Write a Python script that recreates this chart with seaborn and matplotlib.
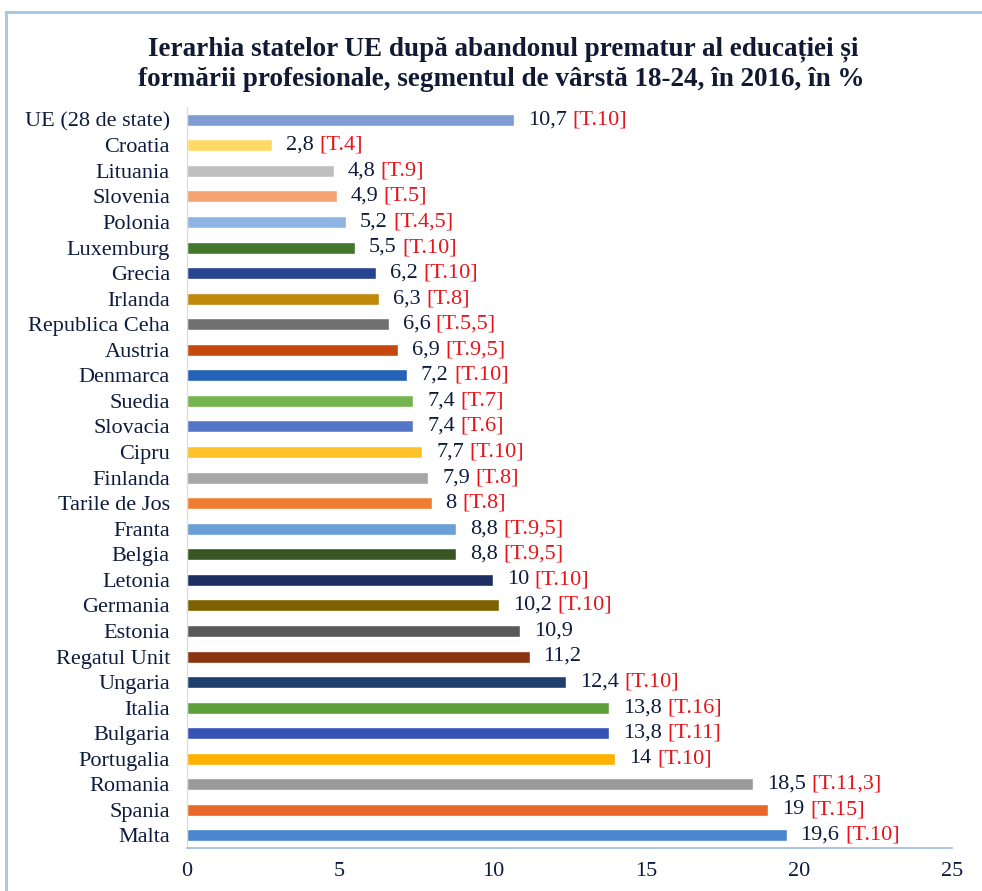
import matplotlib
matplotlib.use("Agg")
import matplotlib.pyplot as plt
import seaborn as sns
from matplotlib.patches import Rectangle

# date
tari = ["UE (28 de state)", "Croatia", "Lituania", "Slovenia", "Polonia", "Luxemburg",
        "Grecia", "Irlanda", "Republica Ceha", "Austria", "Denmarca", "Suedia",
        "Slovacia", "Cipru", "Finlanda", "Tarile de Jos", "Franta", "Belgia",
        "Letonia", "Germania", "Estonia", "Regatul Unit", "Ungaria", "Italia",
        "Bulgaria", "Portugalia", "Romania", "Spania", "Malta"]
valori = [10.7, 2.8, 4.8, 4.9, 5.2, 5.5, 6.2, 6.3, 6.6, 6.9, 7.2, 7.4, 7.4, 7.7,
          7.9, 8.0, 8.8, 8.8, 10.0, 10.2, 10.9, 11.2, 12.4, 13.8, 13.8, 14.0,
          18.5, 19.0, 19.6]
tinte = ["[T.10]", "[T.4]", "[T.9]", "[T.5]", "[T.4,5]", "[T.10]", "[T.10]", "[T.8]",
         "[T.5,5]", "[T.9,5]", "[T.10]", "[T.7]", "[T.6]", "[T.10]", "[T.8]", "[T.8]",
         "[T.9,5]", "[T.9,5]", "[T.10]", "[T.10]", "", "", "[T.10]", "[T.16]",
         "[T.11]", "[T.10]", "[T.11,3]", "[T.15]", "[T.10]"]
culori = ["#7f9bd4", "#ffd966", "#bfbfbf", "#f4a473", "#8db4e2", "#43782c",
          "#264591", "#bf8a0a", "#707070", "#c5490f", "#2563b8", "#74b54f",
          "#5475c8", "#ffc128", "#a6a6a6", "#ed7d31", "#6a9fd8", "#375623",
          "#1c2f60", "#7f6000", "#595959", "#8b3510", "#1f406e", "#5da03a",
          "#3553b5", "#ffb300", "#9a9a9a", "#e8682a", "#4a86cc"]

sns.set_style("white")
plt.rcParams['font.family'] = ['Liberation Serif', 'DejaVu Serif']

text_col = "#0d1b3e"

fig = plt.figure(figsize=(9.82, 8.91), dpi=100)
ax = fig.add_axes([0.19, 0.048, 0.7795, 0.832])

sns.barplot(x=valori, y=tari, hue=tari, palette=culori, orient="h",
            width=0.47, legend=False, ax=ax, saturation=1)

ax.set_xlim(0, 25)
ax.set_ylim(len(tari) - 0.5, -0.5)
ax.set_xticks([0, 5, 10, 15, 20, 25])
ax.tick_params(axis="both", length=0, labelsize=16, colors=text_col)
ax.tick_params(axis="y", pad=12)
ax.tick_params(axis="x", pad=10)
ax.set_xlabel("")
ax.set_ylabel("")

for s in ["top", "right"]:
    ax.spines[s].set_visible(False)
ax.spines["left"].set_color("#d9d9d9")
ax.spines["bottom"].set_color("#9dbbe0")
ax.spines["bottom"].set_linewidth(1.2)

# etichete valori + tinte
for i, (v, t) in enumerate(zip(valori, tinte)):
    lab = f"{v:g}".replace(".", ",")
    txt = ax.annotate(lab, xy=(v, i), xytext=(10, 0), textcoords="offset points",
                      ha="left", va="center", fontsize=16, color=text_col)
    if t:
        ax.annotate(t, xy=(1, 0), xycoords=txt, xytext=(4, 0),
                    textcoords="offset points", ha="left", va="bottom",
                    fontsize=16, color="#e8141a")

fig.text(0.512, 0.945, "Ierarhia statelor UE după abandonul prematur al educației și",
         ha="center", va="center", fontsize=19.5, fontweight="bold", color="#121a33")
fig.text(0.510, 0.911, "formării profesionale, segmentul de vârstă 18-24, în 2016, în %",
         ha="center", va="center", fontsize=19.5, fontweight="bold", color="#121a33")

# chenarul albastru din jurul graficului
fig.patches.append(Rectangle((0.006, -0.01), 1.0, 0.997, transform=fig.transFigure,
                             fill=False, edgecolor="#a9c8e8", linewidth=2.2))

plt.savefig("out.png", dpi=100)
